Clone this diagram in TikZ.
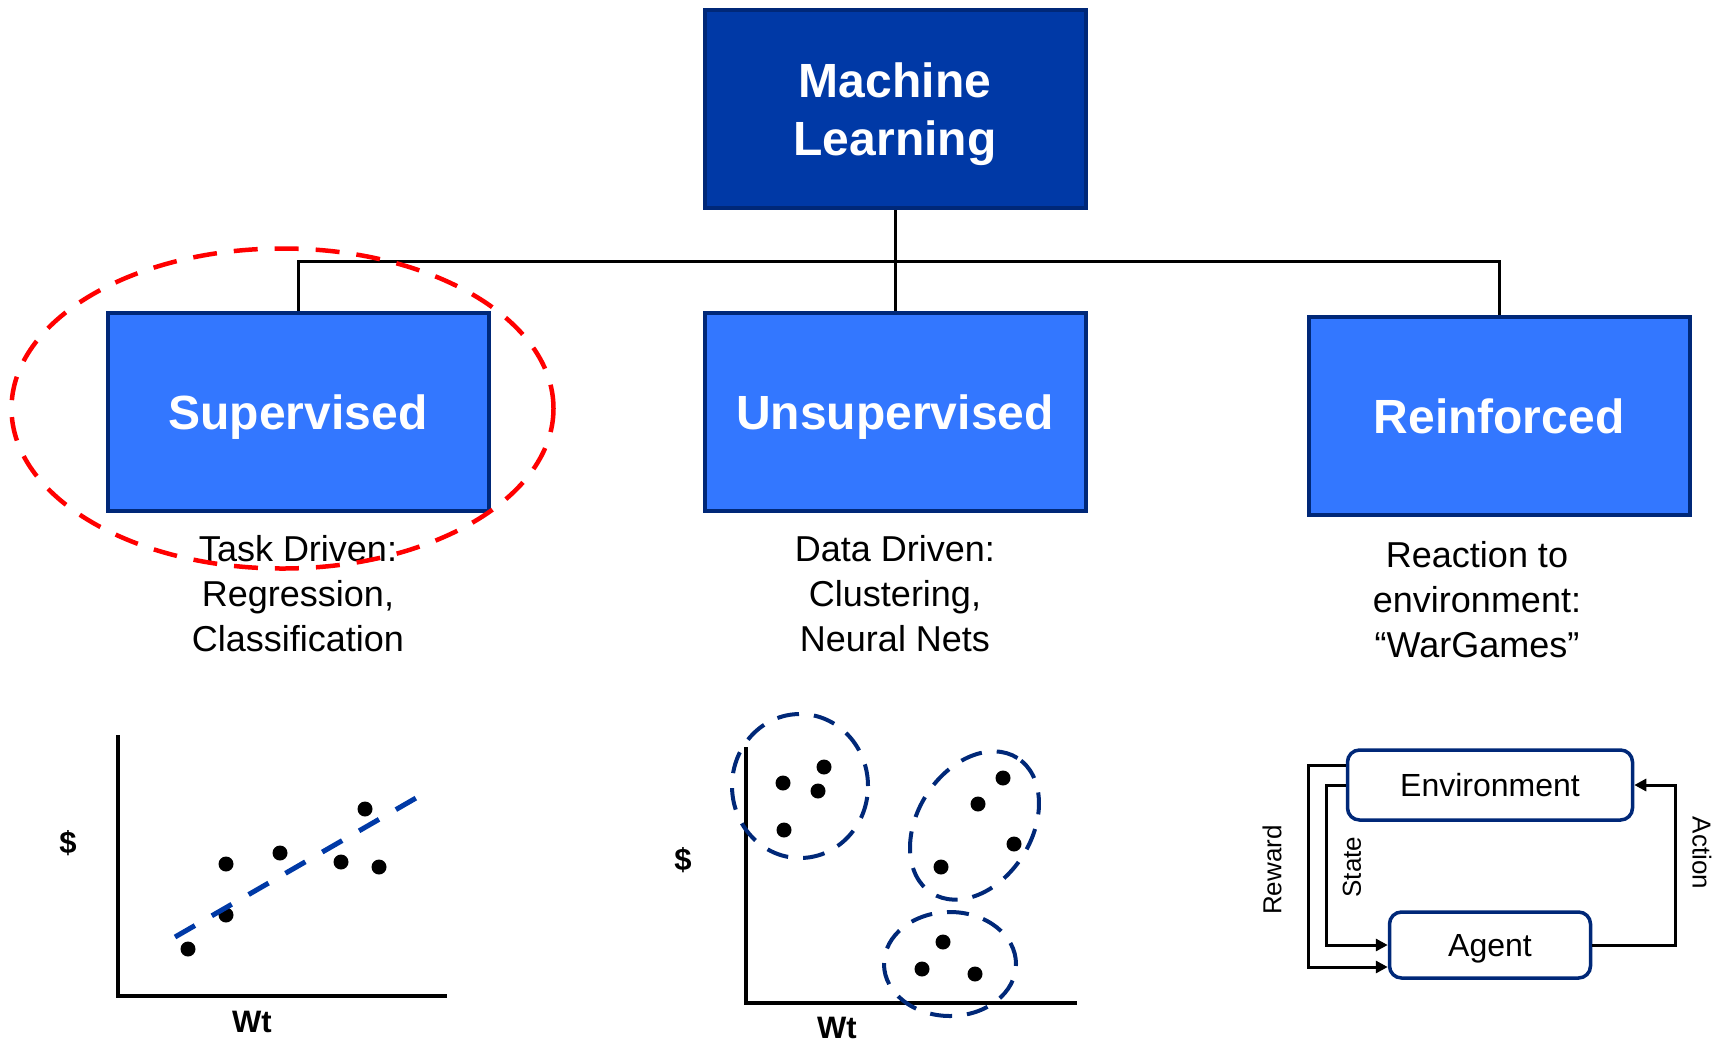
\documentclass[tikz,border=0pt]{standalone}
\usepackage{fontspec}
\setmainfont{Liberation Sans}
\usetikzlibrary{arrows.meta,positioning,calc}
\definecolor{mlblue}{RGB}{0,57,166}
\definecolor{catblue}{RGB}{51,119,255}
\definecolor{navy}{RGB}{0,40,120}

\begin{document}
\begin{tikzpicture}[x=1pt,y=-1pt,>={Triangle[length=12pt,width=12pt]},
  mlbox/.style={draw=navy,line width=4pt,fill=mlblue,text=white,
    minimum width=381pt,minimum height=198pt,align=center,text depth=0pt,
    font=\bfseries\fontsize{48}{58}\selectfont},
  catbox/.style={mlbox,fill=catblue},
  note/.style={align=center,font=\fontsize{36}{45}\selectfont},
  rlbox/.style={draw=navy,line width=3.5pt,rounded corners=12pt,text depth=0pt,
    font=\fontsize{32}{38}\selectfont},
  rllabel/.style={font=\fontsize{26}{30}\selectfont},
  axlabel/.style={font=\bfseries\fontsize{31}{35}\selectfont},
  axline/.style={line width=3.5pt},
  fitline/.style={draw=mlblue,line width=5pt,dash pattern=on 23pt off 19.5pt},
  cluster/.style={draw=navy,line width=4pt,dash pattern=on 22pt off 15pt}]
  \useasboundingbox (0,0) rectangle (1720,1042);

  \node[mlbox] (ml) at (895,109) {Machine\\Learning};
  \node[catbox] (sup) at (298,412) {Supervised};
  \node[catbox] (unsup) at (895,412) {Unsupervised};
  \node[catbox] (reinf) at (1499,416) {Reinforced};
  \coordinate (bus) at (895,261);
  \draw[line width=3pt] (ml) -- (unsup);
  \draw[line width=3pt] (sup.north) |- (bus) -| (reinf.north);

  \node[note] (supnote) at (298,594) {Task Driven:\\Regression,\\Classification};
  \node[note] (unsupnote) at (895,594) {Data Driven:\\Clustering,\\Neural Nets};
  \node[note] (reinfnote) at (1477,600) {Reaction to\\environment:\\“WarGames”};
  \draw[red,line width=4.5pt,dash pattern=on 24pt off 17pt]
    (282.5,408.5) ellipse [x radius=271pt,y radius=160pt];

  \draw[axline] (118,735) -- (118,996) -- (447,996);
  \node[axlabel] (ydollar) at (68,843) {\$};
  \node[axlabel] (xwt) at (252,1022) {Wt};
  \foreach \p in {(188,949),(226,864),(226,915),(280,853),(341,862),(379,867),(365,809)}
    \fill \p circle (7.5pt);
  \coordinate (fitA) at (175,937);
  \coordinate (fitB) at (416,798);
  \draw[fitline] (fitA) -- (fitB);

  \draw[axline] (746,747) -- (746,1003) -- (1077,1003);
  \node[axlabel] (ydollartwo) at (683,860) {\$};
  \node[axlabel] (xwttwo) at (837,1028) {Wt};
  \foreach \p in {(783,783),(824,767),(818,791),(784,830),
                  (1003,778),(978,804),(1014,844),(941,867),
                  (943,942),(922,969),(975,974)}
    \fill \p circle (7.5pt);
  \draw[cluster] (800,786) ellipse [x radius=68pt,y radius=72pt];
  \draw[cluster,rotate around={57.5:(974.5,825.5)}]
    (974.5,825.5) ellipse [x radius=80pt,y radius=57pt];
  \draw[cluster] (950,964) ellipse [x radius=66pt,y radius=52pt];

  \node[rlbox,minimum width=285pt,minimum height=70pt] (env) at (1490,785) {Environment};
  \node[rlbox,minimum width=201pt,minimum height=66pt] (agent) at (1490,945) {Agent};
  \coordinate (actturn) at (1675,785);
  \draw[line width=3pt,->] (agent.east) -| (actturn) -- (env.east);
  \draw[line width=3pt,->] (env.west) -- ++(-19,0) |- (agent.west);
  \draw[line width=3pt,->] ($(env.west)+(0,-20)$) -- ++(-37,0) |- ($(agent.west)+(0,22)$);
  \node[rllabel,rotate=-90] (lblaction) at (1702,853) {Action};
  \node[rllabel,rotate=90] (lblstate) at (1352,867) {State};
  \node[rllabel,rotate=90] (lblreward) at (1272,870) {Reward};
\end{tikzpicture}
\end{document}
